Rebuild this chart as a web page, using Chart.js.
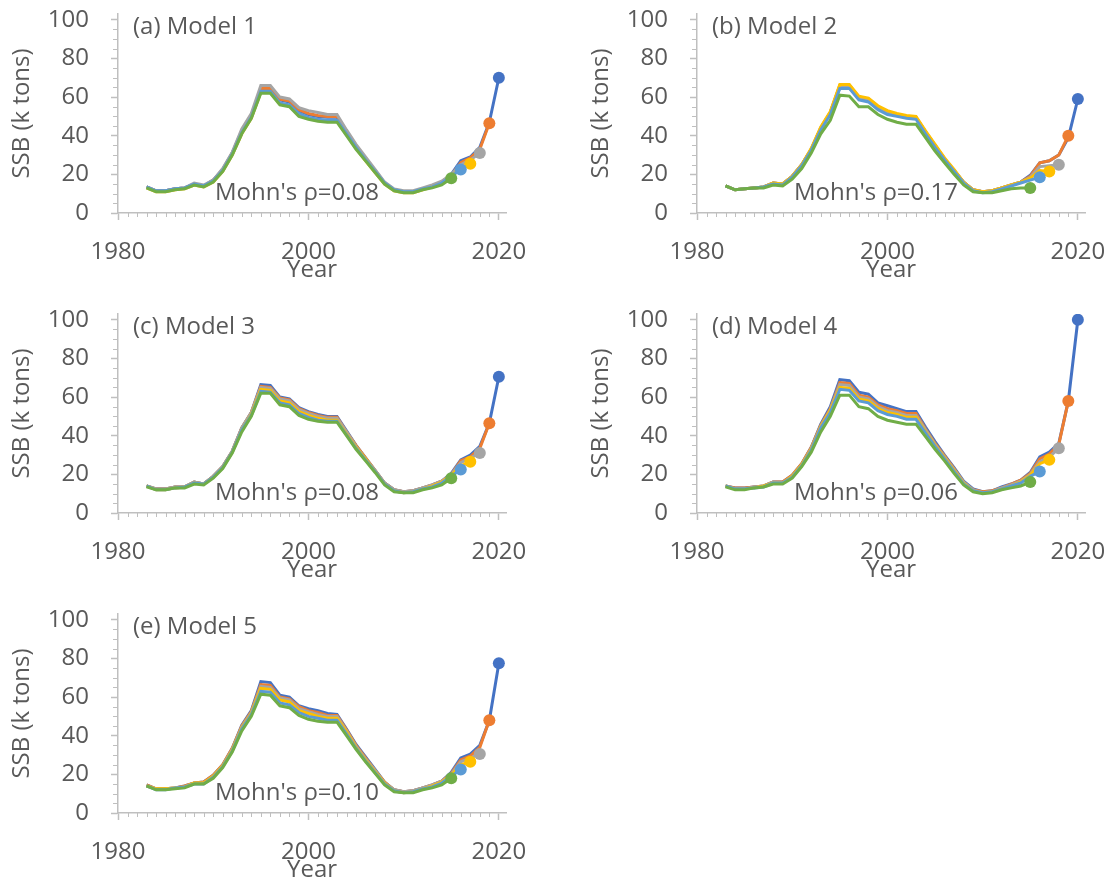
<!DOCTYPE html>
<html>
<head>
<meta charset="utf-8">
<script src="https://cdn.jsdelivr.net/npm/chart.js@4.4.1/dist/chart.umd.min.js"></script>
<style>
  body { margin: 0; background: #fff; overflow: hidden; }
  #wrap { position: relative; width: 1112px; height: 882px; }
  canvas { position: absolute; }
</style>
</head>
<body>
<div id="wrap">
  <canvas id="p0" width="533" height="300" style="left:0px;top:0px"></canvas>
  <canvas id="p1" width="533" height="300" style="left:579px;top:0px"></canvas>
  <canvas id="p2" width="533" height="300" style="left:0px;top:300px"></canvas>
  <canvas id="p3" width="533" height="300" style="left:579px;top:300px"></canvas>
  <canvas id="p4" width="533" height="300" style="left:0px;top:600px"></canvas>
</div>
<script>
// years of the assessment, 1983 - 2020
const years = [1983, 1984, 1985, 1986, 1987, 1988, 1989, 1990, 1991, 1992,
               1993, 1994, 1995, 1996, 1997, 1998, 1999, 2000, 2001, 2002,
               2003, 2004, 2005, 2006, 2007, 2008, 2009, 2010, 2011, 2012,
               2013, 2014, 2015, 2016, 2017, 2018, 2019, 2020];

// retrospective peels (terminal year of each run)
const peelEnds = [2020, 2019, 2018, 2017, 2016, 2015];

const xTicks = [1980, 2000, 2020];
const yTicks = [0, 20, 40, 60, 80, 100];

const panelTitles = ['(a) Model 1', '(b) Model 2', '(c) Model 3', '(d) Model 4', '(e) Model 5'];
const mohnLabels = ["Mohn's \u03c1=0.08", "Mohn's \u03c1=0.17", "Mohn's \u03c1=0.08", "Mohn's \u03c1=0.06", "Mohn's \u03c1=0.10"];

// SSB (k tons), one row per peel: 2020, 2019, 2018, 2017, 2016, 2015
const model1 = [
  [13.5,11.5,11.5,12.5,13,15,14,17,22.5,31, 42.5,50.5,64,64,58.5,57.5,53,51,50,49.5, 49.5,42,34.5,28,22,15.5,12,11,11,12.5, 14,16,20,27,29,34,47,70],
  [13.5,11.5,11.5,12.5,13,15,14,17,22.5,31, 42.5,50.5,64.5,64.5,59,58,53.5,51.5,50.5,50, 50,42,34.5,28,22,15.5,12,11,11,12.5, 14,16,19.5,26,28.5,33,46.5],
  [13.5,11.5,11.5,12.5,13,15.5,14.5,17,23,31.5, 43.5,51.5,66,66,60,59,54.5,53,52,51, 51,43,35.5,29,22.5,16,12.5,11.5,11.5,13, 14.5,16.5,20,25,27.5,31],
  [13,11,11,12,12.5,14.5,13.5,16,21.5,30, 41,49,62.5,62.5,56.5,55.5,50.5,49,48,47.5, 47.5,40.5,33.5,27,21,15,11.5,10.5,10.5,12, 13.5,15,18.5,23.5,25.5],
  [13.5,11.5,11.5,12.5,13,15,14,16.5,22,30.5, 41.5,49.5,63,63,57,56,51.5,49.5,48.5,48, 48,41,34,27.5,21.5,15.5,12,11,11,12.5, 13.5,15.5,19,22.5],
  [13,11,11,12,12.5,14.5,13.5,16,21.5,30, 41,49,62,62,56,55,50,48.5,47.5,47, 47,40,33,27,21,15,11.5,10.5,10.5,12, 13,14.5,18]
];

const model2 = [
  [14,12,12.5,13,13.5,15.5,15,19,25,33, 44,52,65,65,59,58,54,52,51,50, 49.5,42,35,28,22,16,12,11,11.5,13, 14.5,16,19.5,26,27,30,39,59],
  [14,12,12.5,13,13.5,15.5,15,19,25,33, 44,52,66,66,60,59,55,52.5,51,50, 49.5,42,35,28,22,16,12,11,11.5,13, 14.5,16,19,26,27,30,40],
  [14,12,12.5,13,13.5,15.5,15,19,25,33, 44,52,66,66,60,59,55,52.5,51,50, 49.5,42,35,28,22,16,12,11,11.5,13, 14.5,16,18.5,24,24.5,25],
  [14,12,12.5,13,13.5,15.5,15,19,25,33.5, 44.5,52.5,66.5,66.5,60.5,59.5,55.5,53,51.5,50.5, 50,42.5,35.5,28.5,22.5,16,12,11,11.5,13, 14.5,16,18,22,21.5],
  [14,12,12.5,13,13.5,15,14.5,18.5,24.5,32.5, 43,51,64.5,64.5,58.5,57.5,53.5,51,50,49, 48.5,41,34,27.5,21.5,15.5,11.5,10.5,11,12.5, 14,15.5,17,18.5],
  [14,12,12.5,13,13,14.5,14,17.5,23,31, 41,48,61,60.5,55,55,51,48.5,47,46, 46,39,32,26,20,14.5,11,10.5,10.5,11.5, 12.5,13,13]
];

const model3 = [
  [14,12.5,12.5,13.5,13.5,16,15,19,24,32, 44,52,66.5,66,60,59,54.5,52.5,51,50, 50,42.5,35,28.5,22,15.5,12,11,11.5,13, 14.5,16.5,20.5,27.5,30,34.5,46.5,70.5],
  [14,12.5,12.5,13.5,13.5,16,15,19,24,32, 44,52,65.5,65,59.5,58.5,54,52,50.5,49.5, 49.5,42,35,28.5,22,15.5,12,11,11.5,13, 14.5,16.5,20,27,29,33.5,46.5],
  [14,12.5,12.5,13.5,13.5,16,15,19,24,32, 44,52,65,64.5,59,58,53.5,51.5,50,49, 49,42,34.5,28,22,15.5,12,11,11.5,13, 14.5,16.5,20,26,28.5,31],
  [14,12,12,13,13.5,15.5,15,18.5,23.5,31.5, 43,51,64,63.5,58,57,52.5,50.5,49,48, 48,41,34,28,21.5,15,11.5,10.5,11,12.5, 14,16,19.5,24.5,26.5],
  [14,12,12,13,13.5,15.5,15,18.5,23.5,31.5, 43,50.5,63,62.5,57,56,51.5,49.5,48,47.5, 47.5,40.5,33.5,27.5,21.5,15,11.5,10.5,11,12.5, 13.5,15.5,19,22.5],
  [13.5,12,12,13,13,15,14.5,18,23,31, 42,50,62,62,56,55,50.5,48.5,47.5,47, 47,40,33,27,21,14.5,11,10.5,10.5,12, 13,14.5,18]
];

const model4 = [
  [14,13,13,13.5,14,16,16,19.5,25.5,34, 46,55,69,68.5,62.5,61.5,57,55.5,54,52.5, 52.5,44.5,37,30,23.5,16.5,12.5,11,11.5,13.5, 15,17,21,29,31.5,36,58,100],
  [14,13,13,13.5,14,16,16,19.5,25.5,34, 45.5,54,67.5,67,61,60,56,54,53,51.5, 51.5,43.5,36,29.5,23,16,12,11,11.5,13, 15,17,20.5,28,30.5,35.5,58],
  [14,12.5,12.5,13.5,14,16,15.5,19,25,33.5, 45,53.5,66.5,66,60,59,55,53,52,50.5, 50.5,43,35.5,29,22.5,16,12,10.5,11,13, 14.5,16.5,20,26.5,29,33.5],
  [14,12.5,12.5,13,14,15.5,15.5,19,25,33, 44.5,53,65,64.5,59,58,54,52,51,49.5, 49.5,42,35,28.5,22,15.5,11.5,10.5,11,12.5, 14,16,19.5,25.5,27.5],
  [14,12.5,12.5,13,13.5,15.5,15.5,18.5,24.5,32.5, 44,52,64,63.5,58,57,53,51,50,48.5, 48.5,41.5,34.5,28,21.5,15,11.5,10.5,11,12.5, 14,15.5,19,21.5],
  [13.5,12,12,13,13.5,15,15,18,24,31.5, 42,50,61,61,55,54,50,48,47,46, 46,39.5,33,27,20.5,14.5,11,10,10.5,12, 13,14,16]
];

const model5 = [
  [14.5,12.5,12.5,13,14,15.5,16,19.5,25,33.5, 45.5,53,68,67.5,61,60,55.5,54,53,51.5, 51,43.5,35.5,29,22.5,16,12,11,11.5,13, 14.5,16.5,21,28.5,30.5,35,48,77.5],
  [14.5,12.5,12.5,13,14,15.5,16,19.5,25,33.5, 45,52.5,66.5,66,60,59,55,53,52,50.5, 50.5,43,35,28.5,22,16,12,11,11.5,13, 14.5,16.5,20.5,27.5,29.5,34,48],
  [14,12.5,12.5,13,13.5,15.5,15.5,19,24.5,33, 44.5,52,65.5,65,59.5,58.5,54,52.5,51,50, 50,42.5,34.5,28,22,15.5,12,11,11.5,13, 14.5,16.5,20,26.5,28.5,30.5],
  [14,12.5,12.5,13,13.5,15.5,15.5,19,24.5,32.5, 44,51.5,64.5,64,58.5,57.5,53,51.5,50,49, 49,42,34,27.5,21.5,15.5,11.5,10.5,11,12.5, 14,16,19.5,25,26.5],
  [14,12,12,13,13.5,15,15,18.5,24,32, 43.5,51,63,62.5,57,56,52,50,49,48, 48,41,33.5,27,21,15,11.5,10.5,11,12.5, 13.5,15.5,19,22.5],
  [14,12,12,12.5,13,15,15,18,23.5,31.5, 42.5,50,61.5,61,55.5,54.5,50.5,48.5,47.5,47, 47,40,33,26.5,20.5,14.5,11,10.5,10.5,12, 13,14.5,18]
];

const models = [model1, model2, model3, model4, model5];

const peelColors = ['#4472C4', '#ED7D31', '#A5A5A5', '#FFC000', '#5B9BD5', '#70AD47'];
const textColor = '#595959';
const axisColor = '#BFBFBF';
const fontFamily = "'Open Sans', 'Noto Sans', sans-serif";

Chart.defaults.font.family = fontFamily;
Chart.defaults.font.size = 24;
Chart.defaults.color = textColor;

// minor tick marks + the panel label and Mohn's rho text
const panelExtras = {
  id: 'panelExtras',
  afterDraw(chart, args, opts) {
    const ctx = chart.ctx;
    const xs = chart.scales.x;
    const ys = chart.scales.y;
    ctx.save();
    ctx.strokeStyle = axisColor;
    ctx.lineWidth = 1;
    ctx.beginPath();
    for (let yr = 1981; yr <= 2020; yr++) {
      if (yr % 20 === 0) continue;
      const px = Math.round(xs.getPixelForValue(yr)) + 0.5;
      ctx.moveTo(px, xs.top);
      ctx.lineTo(px, xs.top + 4);
    }
    for (let v = 5; v <= 100; v += 5) {
      if (v % 20 === 0) continue;
      const py = Math.round(ys.getPixelForValue(v)) + 0.5;
      ctx.moveTo(ys.right - 5, py);
      ctx.lineTo(ys.right, py);
    }
    ctx.stroke();

    ctx.fillStyle = textColor;
    ctx.font = '24px ' + fontFamily;
    ctx.textBaseline = 'middle';
    ctx.textAlign = 'left';
    ctx.fillText(opts.title, 133, 27);
    ctx.fillText(opts.mohn, 215, 193);
    ctx.restore();
  }
};

function makePanel(idx) {
  const series = models[idx];
  const datasets = series.map((vals, i) => ({
    label: String(peelEnds[i]),
    data: vals.map((v, j) => ({ x: years[j], y: v })),
    borderColor: peelColors[i],
    backgroundColor: peelColors[i],
    borderWidth: 3,
    tension: 0,
    order: series.length - i,
    pointRadius: ctx => ctx.dataIndex === vals.length - 1 ? 6 : 0,
    pointHoverRadius: 0,
    pointBorderWidth: 0
  }));

  new Chart(document.getElementById('p' + idx), {
    type: 'line',
    data: { datasets: datasets },
    options: {
      responsive: false,
      animation: false,
      events: [],
      layout: { padding: { top: 14, right: 27, left: 0, bottom: 0 } },
      plugins: {
        legend: { display: false },
        tooltip: { enabled: false },
        panelExtras: { title: panelTitles[idx], mohn: mohnLabels[idx] }
      },
      scales: {
        x: {
          type: 'linear',
          min: 1980,
          max: 2020.75,
          afterBuildTicks: s => { s.ticks = xTicks.map(v => ({ value: v })); },
          afterFit: s => { s.height = 87; s.paddingLeft = 0; s.paddingRight = 0; },
          grid: { drawOnChartArea: false, drawTicks: true, tickLength: 7, tickColor: axisColor, tickWidth: 1.5 },
          border: { color: axisColor, width: 1.5 },
          ticks: { padding: 18, maxRotation: 0, autoSkip: false, callback: v => String(v) },
          title: { display: true, text: 'Year', padding: { top: 0, bottom: 15 } }
        },
        y: {
          min: 0,
          max: 103,
          afterBuildTicks: s => { s.ticks = yTicks.map(v => ({ value: v })); },
          afterFit: s => { s.width = 118; s.paddingTop = 0; s.paddingBottom = 0; },
          grid: { drawOnChartArea: false, drawTicks: true, tickLength: 7, tickColor: axisColor, tickWidth: 1.5 },
          border: { color: axisColor, width: 1.5 },
          ticks: { padding: 22, autoSkip: false },
          title: { display: true, text: 'SSB (k tons)', padding: { top: 8, bottom: 0 } }
        }
      }
    },
    plugins: [panelExtras]
  });
}

for (let i = 0; i < models.length; i++) makePanel(i);
</script>
</body>
</html>
